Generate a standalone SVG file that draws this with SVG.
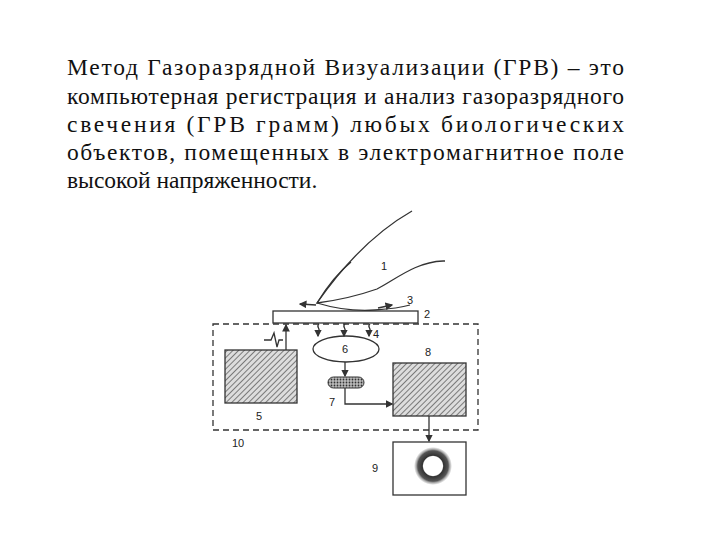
<svg xmlns="http://www.w3.org/2000/svg" width="720" height="540" viewBox="0 0 720 540">
<style>
.t{font-family:"Liberation Serif",serif;font-size:23.5px;fill:#111}
.n{font-family:"Liberation Sans",sans-serif;font-size:11px;fill:#222;stroke:none}
.s{fill:none;stroke:#333;stroke-width:1.3}
.h{fill:url(#hatch);stroke:#333;stroke-width:1.3}
</style>
<defs>
<pattern id="hatch" width="4" height="4" patternUnits="userSpaceOnUse" patternTransform="rotate(45)"><rect width="4" height="4" fill="#ddd"/><line x1="0" y1="0" x2="0" y2="4" stroke="#444" stroke-width="1.3"/></pattern>
<pattern id="dots" width="3" height="3" patternUnits="userSpaceOnUse"><rect width="3" height="3" fill="#bbb"/><circle cx="1.5" cy="1.5" r="0.9" fill="#333"/></pattern>
<marker id="a" markerWidth="6" markerHeight="6" refX="5" refY="3" orient="auto"><path d="M0,0L6,3L0,6z" fill="#333"/></marker>
<radialGradient id="g"><stop offset="0.5" stop-color="#fff"/><stop offset="0.56" stop-color="#333"/><stop offset="0.8" stop-color="#555"/><stop offset="0.88" stop-color="#aaa"/><stop offset="1" stop-color="#fff"/></radialGradient>
</defs>
<rect width="720" height="540" fill="#fff"/>
<g id="text">
<text class="t" x="67" y="75" textLength="557" lengthAdjust="spacing">Метод Газоразрядной Визуализации (ГРВ) – это</text>
<text class="t" x="67" y="104" textLength="557" lengthAdjust="spacing">компьютерная регистрация и анализ газоразрядного</text>
<text class="t" x="67" y="132" textLength="557" lengthAdjust="spacing">свечения (ГРВ грамм) любых биологических</text>
<text class="t" x="67" y="160" textLength="557" lengthAdjust="spacing">объектов, помещенных в электромагнитное поле</text>
<text class="t" x="67" y="188">высокой напряженности.</text>
</g>
<g id="finger">
<path class="s" d="M412,211 C370,235 340,270 317,303"/>
<path class="s" d="M351,262 C335,275 325,290 317,303 C340,300 360,295 377,289 C395,280 415,262 443,261"/>
<path class="s" d="M317,303 C340,310 360,311 375,310 C390,309 400,308 410,305"/>
<path class="s" stroke-dasharray="2,3" d="M443,261 L448,261"/>
<path class="s" marker-end="url(#a)" d="M316,305 L300,304"/>
<path class="s" marker-end="url(#a)" d="M378,308 L392,305"/>
<text class="n" x="381" y="270">1</text>
<text class="n" x="407" y="304">3</text>
</g>
<g id="plate">
<rect class="s" x="273" y="311" width="145" height="12"/>
<text class="n" x="424" y="318">2</text>
</g>
<g id="box10">
<rect class="s" x="213" y="324" width="265" height="106" stroke-dasharray="6,4" fill="none"/>
<text class="n" x="232" y="447">10</text>
</g>
<g id="n5"><rect class="h" x="225" y="350" width="72" height="53"/><text class="n" x="256" y="420">5</text></g>
<g id="n6"><ellipse class="s" cx="346" cy="349" rx="33" ry="13"/><text class="n" x="342" y="353">6</text></g>
<g id="n7"><rect x="328" y="377" width="36" height="11" rx="5.5" fill="url(#dots)" stroke="#333"/><text class="n" x="329" y="406">7</text></g>
<g id="n8"><rect class="h" x="393" y="363" width="73" height="53"/><text class="n" x="425" y="356">8</text></g>
<g id="n9"><rect class="s" x="393" y="442" width="73" height="53" fill="#fff"/><circle cx="433" cy="466" r="19" fill="url(#g)"/><text class="n" x="372" y="472">9</text></g>
<g id="connectors">
<path class="s" marker-end="url(#a)" d="M286,350 L286,325"/>
<path class="s" d="M264,340 L271,340 L274,333 L277,347 L279,340 L283,340"/>
<path class="s" marker-end="url(#a)" d="M319,324 C315,327 322,329 318,332 L318,336"/>
<path class="s" marker-end="url(#a)" d="M345,324 C341,327 348,329 344,332 L344,336"/>
<path class="s" marker-end="url(#a)" d="M370,324 C366,327 373,329 369,332 L369,336"/>
<text class="n" x="373" y="338">4</text>
<path class="s" marker-end="url(#a)" d="M345,362 L345,376"/>
<path class="s" marker-end="url(#a)" d="M345,388 L345,404 L392,404"/>
<path class="s" marker-end="url(#a)" d="M429,416 L429,441"/>
</g>
</svg>
